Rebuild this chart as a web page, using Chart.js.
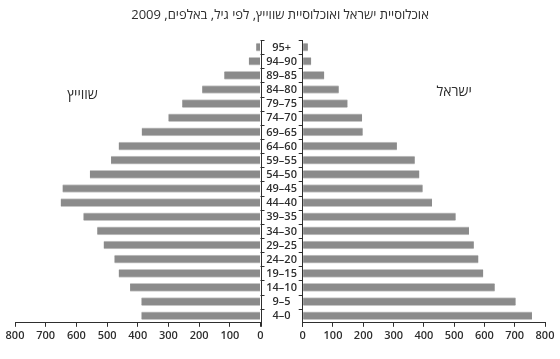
<!DOCTYPE html>
<html lang="he">
<head>
<meta charset="utf-8">
<title>Israel / Switzerland population pyramid 2009</title>
<script src="https://cdn.jsdelivr.net/npm/chart.js@4/dist/chart.umd.min.js"></script>
<style>
  html, body { margin: 0; padding: 0; background: #fff; }
  #wrap { position: relative; width: 560px; height: 359px; }
</style>
</head>
<body>
<div id="wrap"><canvas id="pyr" width="560" height="359"></canvas></div>
<script>
'use strict';

/* ── data: population by age, thousands, 2009 ── */
const ageGroups = ['95+', '94–90', '89–85', '84–80', '79–75', '74–70', '69–65', '64–60', '59–55', '54–50',
                   '49–45', '44–40', '39–35', '34–30', '29–25', '24–20', '19–15', '14–10', '9–5', '4–0'];
const swiss  = [14, 38, 118, 190, 255, 300, 387, 462, 487, 556, 645, 651, 577, 532, 511, 476, 462, 425, 388, 388];
const israel = [17, 28, 71, 119, 148, 196, 198, 311, 370, 385, 396, 427, 505, 549, 565, 580, 596, 634, 703, 757];
const xTicks = [0, 100, 200, 300, 400, 500, 600, 700, 800];

const titleText  = 'אוכלוסיית ישראל ואוכלוסיית שווייץ, לפי גיל, באלפים, 2009';
const swissName  = 'שווייץ';
const israelName = 'ישראל';

/* ── look ── */
const INK  = '#2e2e2e';
const BAR  = '#8b8b8b';
const EDGE = '#c6c6c6';
const FONT = "'Open Sans', 'DejaVu Sans', sans-serif";

// one half of the pyramid's bottom axis
function sideAxis(reverse, weight) {
  return {
    type: 'linear', position: 'bottom', stack: 'pyr', stackWeight: weight,
    reverse, min: 0, max: 800,
    afterBuildTicks: s => { s.ticks = xTicks.map(v => ({ value: v })); },
    grid: { drawOnChartArea: false, tickLength: 4, tickColor: INK, tickWidth: 1 },
    border: { color: INK, width: 1 },
    ticks: { color: INK, font: { family: FONT, size: 11, weight: '600' }, padding: 2, maxRotation: 0, autoSkip: false }
  };
}

const barStyle = {
  grouped: false, barThickness: 8,
  backgroundColor: BAR, borderColor: EDGE, borderSkipped: false,
  borderWidth: { top: 1, bottom: 1, left: 0, right: 0 }
};

/* ── centre column: frame, ticks, age labels + country names ── */
const centrePlugin = {
  id: 'centre',
  afterDraw(chart) {
    const { ctx, chartArea, scales } = chart;
    const y = scales.y;
    const xl = scales.xL.getPixelForValue(0);
    const xr = scales.xR.getPixelForValue(0);
    const step = y.getPixelForValue(1) - y.getPixelForValue(0);
    ctx.save();
    ctx.strokeStyle = INK;
    ctx.lineWidth = 1;
    ctx.beginPath();
    ctx.moveTo(Math.round(xl) + 0.5, chartArea.top);
    ctx.lineTo(Math.round(xl) + 0.5, chartArea.bottom + 4);
    ctx.moveTo(Math.round(xr) - 0.5, chartArea.top);
    ctx.lineTo(Math.round(xr) - 0.5, chartArea.bottom + 4);
    for (let i = 0; i < ageGroups.length; i++) {
      const yy = Math.round(y.getPixelForValue(i) - step / 2) + 0.5;
      ctx.moveTo(xl, yy); ctx.lineTo(xl + 4, yy);
      ctx.moveTo(xr, yy); ctx.lineTo(xr - 4, yy);
    }
    ctx.stroke();

    ctx.fillStyle = INK;
    ctx.font = `600 11px ${FONT}`;
    ctx.textAlign = 'center';
    ctx.textBaseline = 'middle';
    ageGroups.forEach((lab, i) => ctx.fillText(lab, (xl + xr) / 2, y.getPixelForValue(i) + 0.5));

    ctx.direction = 'rtl';
    ctx.font = `14px ${FONT}`;
    ctx.fillText(swissName, scales.xL.getPixelForValue(580), y.getPixelForValue(3) + step * 0.4);
    ctx.fillText(israelName, scales.xR.getPixelForValue(500), y.getPixelForValue(3) + step * 0.2);
    ctx.restore();
  }
};

new Chart(document.getElementById('pyr'), {
  type: 'bar',
  data: {
    labels: ageGroups,
    datasets: [
      { label: swissName, data: swiss, xAxisID: 'xL', ...barStyle },
      { label: israelName, data: israel, xAxisID: 'xR', ...barStyle }
    ]
  },
  options: {
    indexAxis: 'y',
    responsive: false,
    animation: false,
    maintainAspectRatio: false,
    layout: { padding: { left: 15, right: 15, top: 0, bottom: 15 } },
    scales: {
      xL: sideAxis(true, 245.5),
      xM: {
        type: 'linear', position: 'bottom', stack: 'pyr', stackWeight: 42.2, min: 0, max: 1,
        ticks: { display: false }, grid: { display: false }, border: { display: false }
      },
      xR: sideAxis(false, 242.3),
      y: { type: 'category', display: false }
    },
    plugins: {
      legend: { display: false },
      tooltip: { enabled: false },
      title: {
        display: true, text: titleText, color: INK,
        font: { family: FONT, size: 13, weight: 'normal' },
        padding: { top: 7, bottom: 17.4 }
      }
    }
  },
  plugins: [centrePlugin]
});
</script>
</body>
</html>
